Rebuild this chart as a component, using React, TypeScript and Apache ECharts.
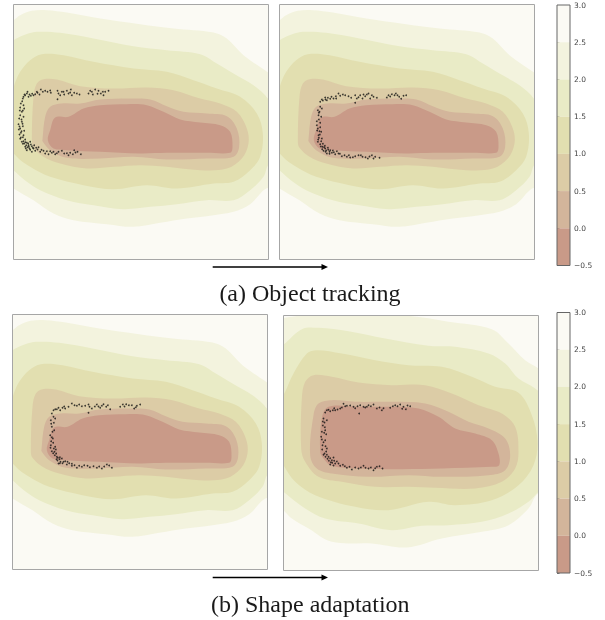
import React, { useEffect, useRef } from "react";
import * as echarts from "echarts";

const levelColors = ["#f3f3de", "#e9ebc6", "#e2dfb0", "#dccca6", "#d3b59b", "#c99a88"];
const barBands = [
  { lo: 2.5, hi: 3.0, color: "#fbfaf4" },
  { lo: 2.0, hi: 2.5, color: "#f3f3de" },
  { lo: 1.5, hi: 2.0, color: "#e9ebc6" },
  { lo: 1.0, hi: 1.5, color: "#e2dfb0" },
  { lo: 0.5, hi: 1.0, color: "#dccca6" },
  { lo: 0.0, hi: 0.5, color: "#d3b59b" },
  { lo: -0.5, hi: 0.0, color: "#c99a88" },
];

const trackA = [[-40,70],[0,47],[20,32],[55,19],[100,17],[160,24],[260,42],[380,59],[480,72],[600,84],[640,102],[690,152],[765,205],[810,240],[810,580],[765,550],[710,599],[660,622],[600,632],[520,642],[440,655],[360,667],[280,659],[180,647],[120,627],[60,587],[0,552],[-40,520]];
const trackB = [[-40,130],[0,107],[30,92],[70,82],[140,85],[240,102],[360,125],[460,137],[560,149],[610,177],[660,207],[720,242],[750,267],[770,290],[810,330],[810,440],[765,480],[750,517],[710,557],[660,587],[580,587],[490,599],[410,607],[330,614],[240,602],[160,587],[80,557],[40,532],[0,497],[-40,460]];
const trackC = [[-30,380],[0,250],[20,202],[50,167],[85,149],[150,152],[240,172],[360,192],[460,202],[540,227],[610,252],[680,277],[730,327],[748,387],[740,457],[710,497],[660,532],[600,537],[490,552],[400,542],[300,554],[210,542],[110,517],[50,487],[10,457],[-30,400]];
const trackD = [[55,410],[60,277],[70,237],[90,224],[130,225],[200,245],[300,252],[400,249],[480,257],[560,282],[620,297],[670,322],[700,372],[705,417],[685,462],[640,492],[560,497],[460,487],[380,482],[300,487],[220,492],[140,477],[90,457],[60,430]];
const trackE = [[87,405],[95,337],[110,307],[145,297],[200,297],[260,285],[360,282],[410,285],[460,305],[510,322],[580,327],[640,335],[670,372],[677,427],[660,457],[580,462],[460,465],[360,457],[260,462],[160,460],[110,437],[87,410]];
const trackF = [[103,407],[110,377],[125,339],[165,337],[210,312],[260,302],[340,299],[400,302],[450,322],[500,345],[560,354],[620,362],[650,382],[657,427],[650,445],[580,445],[460,445],[380,447],[260,442],[160,437],[120,432]];
const fieldTrack = [trackA, trackB, trackC, trackD, trackE, trackF];

const shapeA = [[-40,20],[0,8],[35,2],[100,-5],[200,-6],[375,1],[495,19],[625,41],[675,84],[725,134],[765,159],[810,200],[810,560],[765,535],[735,579],[675,629],[595,649],[475,669],[370,696],[265,684],[145,679],[75,639],[25,609],[0,584],[-40,550]];
const shapeB = [[-40,110],[0,87],[55,41],[105,37],[195,47],[305,69],[435,91],[515,94],[615,114],[665,144],[705,189],[755,219],[810,275],[810,490],[765,529],[735,559],[675,594],[595,619],[495,629],[415,631],[325,644],[225,624],[125,609],[65,579],[0,529],[-40,490]];
const shapeC = [[-30,300],[5,229],[30,174],[70,114],[100,104],[175,114],[275,134],[375,149],[475,154],[565,184],[635,214],[705,232],[745,299],[762,379],[750,449],[705,509],[625,554],[515,569],[435,559],[315,584],[215,574],[95,539],[35,499],[0,449],[-30,400]];
const shapeD = [[53,399],[55,249],[65,199],[90,179],[145,184],[225,201],[325,209],[425,209],[505,234],[585,269],[655,294],[695,334],[705,409],[695,459],[655,499],[575,519],[455,517],[375,514],[275,514],[175,499],[105,484],[65,439]];
const shapeE = [[80,419],[90,299],[105,264],[145,254],[215,259],[325,259],[425,264],[495,289],[555,319],[615,339],[665,369],[680,419],[665,464],[615,479],[475,484],[375,479],[255,484],[145,474],[100,459]];
const shapeF = [[110,409],[115,309],[135,274],[225,274],[325,274],[405,279],[465,304],[515,339],[575,354],[625,374],[645,414],[647,449],[625,454],[475,459],[355,461],[225,459],[145,451],[120,429]];
const fieldShape = [shapeA, shapeB, shapeC, shapeD, shapeE, shapeF];

const pointsA = [[30,277],[33,270],[35,272],[40,267],[45,277],[48,270],[52,274],[60,272],[65,269],[70,262],[72,265],[78,270],[82,255],[95,259],[102,262],[112,265],[132,259],[135,267],[132,284],[140,272],[145,262],[152,270],[160,259],[165,267],[172,255],[175,272],[182,265],[190,267],[198,270],[225,267],[230,259],[238,270],[245,255],[255,259],[262,267],[270,272],[275,262],[285,259],
[28,282],[22,297],[30,302],[20,309],[32,312],[25,322],[28,318],[20,332],[30,337],[17,342],[25,352],[15,359],[28,365],[20,372],[32,379],[22,385],[30,392],[22,399],[35,405],[25,412],[18,390],[16,375],[32,417],[40,415],[45,422],[35,427],[48,432],[40,437],[55,425],[38,422],[42,428],[52,420],[60,432],[65,439],[55,442],[72,435],[80,442],[90,439],[95,447],[105,449],[115,445],[125,449],[135,442],[145,439],[152,447],[165,452],[170,445],[178,449],[182,437],[192,442],[202,449],[75,428],[50,412],[62,422],
[24,345],[27,358],[18,366],[24,380],[28,398],[20,403],[30,410],[36,413],[28,418],[44,417],[37,432],[46,427],[50,436],[58,430],[68,430],[84,436],[100,440],[110,440],[120,442],[130,446],[160,446],[186,444],[42,262],[56,268],[88,262],[110,258],[150,262],[170,264],[235,262],[252,268],[268,262],[26,290],[19,318]];
const pointsB = [[122,292],[127,285],[137,279],[142,287],[152,283],[162,282],[169,275],[177,267],[182,274],[197,272],[207,275],[227,272],[227,295],[232,282],[242,272],[249,282],[257,275],[267,267],[272,282],[282,277],[292,280],[322,279],[327,272],[337,269],[349,267],[359,277],[365,283],[372,274],[380,272],[130,288],[145,280],[156,277],[215,280],[262,270],[345,272],
[122,307],[115,317],[127,312],[117,332],[125,337],[120,322],[112,362],[122,355],[115,372],[125,382],[117,392],[127,402],[115,412],[122,419],[129,427],[137,432],[132,439],[142,447],[152,437],[157,445],[167,449],[177,447],[187,455],[202,457],[212,459],[227,455],[237,452],[249,457],[265,462],[277,452],[287,457],[300,460],[118,345],[120,380],[125,410],[130,418],[136,424],[140,438],[145,430],[150,442],[160,438],[172,440],[195,452],[220,458],[258,458],[270,456],[118,400],[122,368],
[113,378],[121,390],[116,405],[124,426],[128,434],[134,428],[138,442],[146,436],[150,448],[163,443],[181,448],[208,452],[244,452],[282,462],[112,350],[118,325],[138,285],[170,282],[190,270],[237,278],[252,270],[277,272],[332,276],[354,272]];
const pointsC = [[118,297],[123,287],[133,284],[143,287],[158,282],[168,277],[178,267],[193,274],[208,275],[228,270],[231,277],[228,295],[238,282],[253,270],[263,280],[273,269],[281,277],[293,284],[323,277],[331,270],[341,269],[358,272],[365,282],[373,274],[383,270],[128,284],[138,280],[150,280],[186,272],[218,274],[247,276],[268,274],[349,272],
[123,307],[115,317],[128,312],[118,337],[125,347],[113,362],[121,372],[115,392],[128,397],[118,410],[131,417],[133,427],[141,434],[138,447],[153,442],[163,450],[178,454],[193,460],[208,457],[225,454],[243,455],[253,460],[268,462],[283,450],[298,460],[120,352],[116,380],[124,402],[130,405],[127,422],[135,438],[144,442],[148,432],[158,440],[170,446],[186,452],[200,454],[232,458],[275,456],[290,453],
[118,368],[122,385],[114,400],[126,412],[122,416],[132,434],[136,430],[142,428],[150,446],[142,446],[165,442],[178,448],[215,452],[260,456],[116,328],[124,325],[155,276],[200,270],[258,276],[286,272],[336,276],[370,278]];
const pointsD = [[125,291],[130,284],[140,287],[155,284],[170,279],[180,265],[190,271],[210,274],[230,269],[227,294],[240,274],[255,269],[270,267],[280,279],[295,284],[320,277],[335,269],[350,267],[360,274],[367,281],[380,272],[135,283],[148,284],[162,282],[175,276],[200,270],[222,272],[245,276],[262,272],[288,276],[342,272],[372,270],
[120,309],[130,314],[123,321],[115,349],[125,344],[113,364],[125,374],[117,389],[130,399],[123,414],[135,424],[145,434],[140,447],[155,444],[170,451],[190,457],[205,462],[225,459],[240,451],[255,459],[270,464],[280,454],[297,459],[118,330],[128,356],[120,380],[116,402],[128,408],[126,424],[136,436],[146,442],[150,426],[160,438],[178,448],[198,454],[215,456],[246,457],[262,456],[288,452],
[122,352],[115,372],[126,392],[120,418],[130,418],[132,430],[140,428],[142,440],[152,436],[150,450],[165,444],[184,452],[232,456],[275,458],[124,335],[118,318],[152,278],[185,272],[215,278],[250,274],[300,278],[328,272],[356,280]];

const panels = [
  { left: 13.5, top: 4.5, size: 255, field: fieldTrack, pts: pointsA },
  { left: 279.5, top: 4.5, size: 255, field: fieldTrack, pts: pointsB },
  { left: 12.5, top: 314.5, size: 255, field: fieldTrack, pts: pointsC },
  { left: 283.5, top: 315.5, size: 255, field: fieldShape, pts: pointsD },
];
const colorbars = [
  { top: 5, height: 260.5 },
  { top: 312.5, height: 260.5 },
];

const SCALE_MAX = 765;
const serif = "'Liberation Serif', serif";

export default function App() {
  const ref = useRef<HTMLDivElement>(null);
  useEffect(() => {
    const chart = echarts.init(ref.current!, null, { renderer: "svg", width: 605, height: 620 });
    const grid: any[] = [];
    const xAxis: any[] = [];
    const yAxis: any[] = [];
    const series: any[] = [];
    panels.forEach((p, i) => {
      grid.push({ left: p.left, top: p.top, width: p.size, height: p.size, backgroundColor: "#fbfaf4", show: true, borderWidth: 0 });
      xAxis.push({ type: "value", gridIndex: i, min: 0, max: SCALE_MAX, show: false });
      yAxis.push({ type: "value", gridIndex: i, min: 0, max: SCALE_MAX, inverse: true, show: false });
      series.push({
        type: "custom",
        xAxisIndex: i,
        yAxisIndex: i,
        clip: true,
        silent: true,
        data: p.field.map((_, k) => [k, 0]),
        renderItem: (params: any, api: any) => ({
          type: "polygon",
          shape: { points: p.field[params.dataIndex].map((q: number[]) => api.coord(q)), smooth: 0.35 },
          style: { fill: levelColors[params.dataIndex], stroke: null },
        }),
      });
      series.push({
        type: "scatter",
        xAxisIndex: i,
        yAxisIndex: i,
        symbolSize: 1.7,
        silent: true,
        itemStyle: { color: "#111" },
        data: p.pts,
        z: 5,
      });
      series.push({
        type: "custom",
        xAxisIndex: i,
        yAxisIndex: i,
        clip: false,
        silent: true,
        z: 6,
        data: [[0, 0]],
        renderItem: (_: any, api: any) => {
          const a = api.coord([0, 0]);
          const b = api.coord([SCALE_MAX, SCALE_MAX]);
          return {
            type: "rect",
            shape: { x: a[0], y: a[1], width: b[0] - a[0], height: b[1] - a[1] },
            style: { fill: "none", stroke: "#a6a6a6", lineWidth: 1 },
          };
        },
      });
    });
    colorbars.forEach((c, j) => {
      const i = panels.length + j;
      grid.push({ left: 557, top: c.top, width: 13, height: c.height, show: false });
      xAxis.push({ type: "value", gridIndex: i, min: 0, max: 1, show: false });
      yAxis.push({
        type: "value",
        gridIndex: i,
        min: -0.5,
        max: 3,
        interval: 0.5,
        position: "right",
        splitLine: { show: false },
        axisLine: { show: false },
        axisTick: { show: true, length: 2.5, lineStyle: { color: "#555", width: 0.8 } },
        axisLabel: {
          show: true,
          margin: 4,
          fontFamily: "'DejaVu Sans', sans-serif",
          fontSize: 7.5,
          color: "#444",
          formatter: (v: number) => v.toFixed(1).replace("-", "\u2212"),
        },
      });
      series.push({
        type: "custom",
        xAxisIndex: i,
        yAxisIndex: i,
        silent: true,
        data: barBands.map((b) => [0, b.lo, b.hi]),
        encode: { x: 0, y: [1, 2] },
        renderItem: (_: any, api: any) => {
          const a = api.coord([0, api.value(2)]);
          const b = api.coord([1, api.value(1)]);
          return {
            type: "rect",
            shape: { x: a[0], y: a[1], width: b[0] - a[0], height: b[1] - a[1] },
            style: { fill: barBands[_.dataIndex].color, stroke: null },
          };
        },
      });
      series.push({
        type: "custom",
        xAxisIndex: i,
        yAxisIndex: i,
        silent: true,
        clip: false,
        z: 6,
        data: [[0, 3]],
        renderItem: (_: any, api: any) => {
          const a = api.coord([0, 3]);
          const b = api.coord([1, -0.5]);
          return {
            type: "rect",
            shape: { x: a[0], y: a[1], width: b[0] - a[0], height: b[1] - a[1] },
            style: { fill: "none", stroke: "#666", lineWidth: 1 },
          };
        },
      });
    });
    const arrow = (y: number) => [
      { type: "line", shape: { x1: 212.7, y1: y, x2: 323, y2: y }, style: { stroke: "#000", lineWidth: 1.6 } },
      { type: "polygon", shape: { points: [[321.5, y - 3], [328, y], [321.5, y + 3]] }, style: { fill: "#000" } },
    ];
    chart.setOption({
      animation: false,
      backgroundColor: "#fff",
      grid,
      xAxis,
      yAxis,
      series,
      graphic: [
        ...arrow(267),
        ...arrow(577.5),
        { type: "text", x: 310, y: 293, style: { text: "(a) Object tracking", fontFamily: serif, fontSize: 24, fill: "#1a1a1a", textAlign: "center", textVerticalAlign: "middle" } },
        { type: "text", x: 310.3, y: 604, style: { text: "(b) Shape adaptation", fontFamily: serif, fontSize: 24, fill: "#1a1a1a", textAlign: "center", textVerticalAlign: "middle" } },
      ],
    });
    return () => chart.dispose();
  }, []);
  return <div ref={ref} style={{ position: "absolute", left: 0, top: 0, width: 605, height: 620, filter: "blur(0.35px)" }} />;
}
